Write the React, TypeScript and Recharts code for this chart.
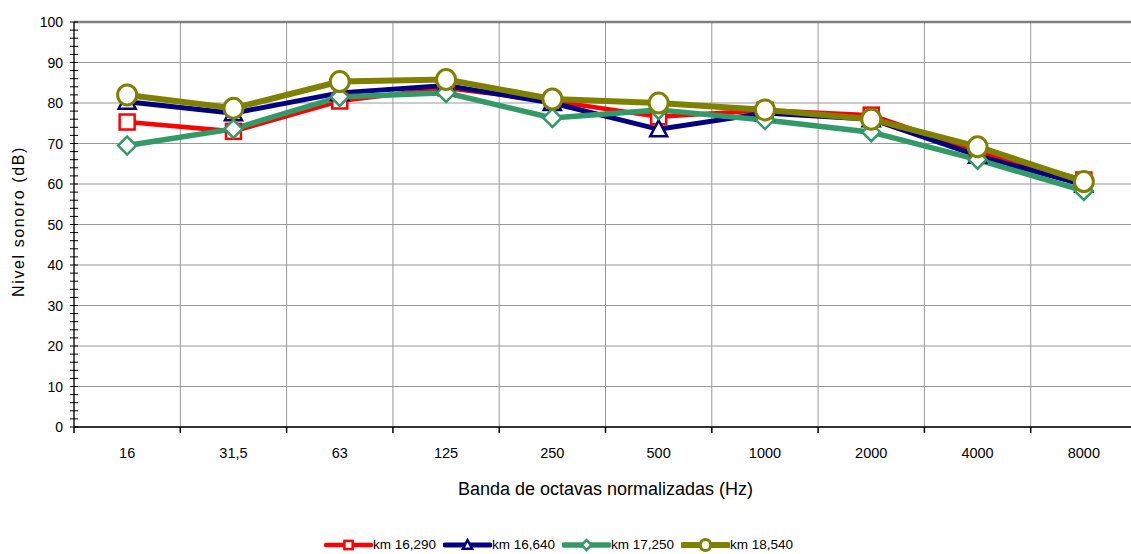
import React from 'react';
import { LineChart, Line, XAxis, YAxis, CartesianGrid, Legend, ReferenceLine } from 'recharts';

const categories = ['16', '31,5', '63', '125', '250', '500', '1000', '2000', '4000', '8000'];
const seriesNames = ['km 16,290', 'km 16,640', 'km 17,250', 'km 18,540'];
const km16290 = [75.3, 73.0, 80.5, 83.7, 80.5, 76.6, 78.2, 77.0, 68.0, 61.0];
const km16640 = [80.3, 77.5, 82.5, 84.3, 80.0, 73.5, 77.5, 76.0, 67.0, 59.8];
const km17250 = [69.5, 73.6, 81.5, 82.5, 76.3, 78.3, 75.8, 72.8, 66.0, 58.3];
const km18540 = [82.0, 78.7, 85.3, 85.8, 81.0, 80.0, 78.3, 76.0, 69.2, 60.6];
const yMajorTicks = [0, 10, 20, 30, 40, 50, 60, 70, 80, 90, 100];
const yAllTicks = Array.from({ length: 51 }, (_, i) => i * 2);

const data = categories.map((c, i) => ({
  cat: c,
  s1: km16290[i],
  s2: km16640[i],
  s3: km17250[i],
  s4: km18540[i],
}));

const FONT = '"Liberation Sans", Arial, sans-serif';
const CHART_W = 1150;
const CHART_H = 554;
const MARGIN = { top: 22, right: 13, left: 0, bottom: 0 };
const Y_W = 74;
const PLOT_W = CHART_W - MARGIN.left - MARGIN.right - Y_W;
const BAND = PLOT_W / categories.length;

const COLORS = ['#FF0000', '#000080', '#339966', '#808000'];
const WIDTHS = [4.5, 5, 5.5, 6];

type Shape = 'square' | 'triangle' | 'diamond' | 'circle';
const SHAPES: Shape[] = ['square', 'triangle', 'diamond', 'circle'];

function Marker({ shape, cx, cy, color, s }: { shape: Shape; cx: number; cy: number; color: string; s: number }) {
  if (shape === 'square') {
    return <rect x={cx - 7.5 * s} y={cy - 7.5 * s} width={15 * s} height={15 * s} fill="#fff" stroke={color} strokeWidth={2.5} />;
  }
  if (shape === 'triangle') {
    const pts = `${cx},${cy - 9 * s} ${cx + 8.5 * s},${cy + 7 * s} ${cx - 8.5 * s},${cy + 7 * s}`;
    return <polygon points={pts} fill="#fff" stroke={color} strokeWidth={2.5} />;
  }
  if (shape === 'diamond') {
    const pts = `${cx},${cy - 9 * s} ${cx + 9 * s},${cy} ${cx},${cy + 9 * s} ${cx - 9 * s},${cy}`;
    return <polygon points={pts} fill="#fff" stroke={color} strokeWidth={2.5} />;
  }
  return <ellipse cx={cx} cy={cy} rx={9.5 * s} ry={10 * s} fill="#fff" stroke={color} strokeWidth={3} />;
}

const makeDot = (idx: number) => (props: any) => {
  const { cx, cy, index } = props;
  if (cx == null || cy == null) return <g key={`d${idx}-${index}`} />;
  return (
    <g key={`d${idx}-${index}`}>
      <Marker shape={SHAPES[idx]} cx={cx} cy={cy} color={COLORS[idx]} s={1} />
    </g>
  );
};

const YTick = (props: any) => {
  const { x, y, payload } = props;
  const v = payload.value;
  return (
    <g>
      <line x1={x - 4} x2={x + 4} y1={y} y2={y} stroke="#000" strokeWidth={1} />
      {v % 10 === 0 && (
        <text x={x - 11} y={y} dy={5} textAnchor="end" fontSize={14} fontFamily={FONT} fill="#000">
          {v}
        </text>
      )}
    </g>
  );
};

const XTick = (props: any) => {
  const { x, y, payload, index } = props;
  return (
    <g>
      <line x1={x - BAND / 2} x2={x - BAND / 2} y1={y} y2={y + 6} stroke="#000" strokeWidth={1.5} />
      {index === categories.length - 1 && (
        <line x1={x + BAND / 2} x2={x + BAND / 2} y1={y} y2={y + 6} stroke="#000" strokeWidth={1.5} />
      )}
      <text x={x} y={y + 31} textAnchor="middle" fontSize={14.5} fontFamily={FONT} fill="#000">
        {payload.value}
      </text>
    </g>
  );
};

const XLabel = (props: any) => {
  const { viewBox } = props;
  const cx = viewBox.x + viewBox.width / 2;
  return (
    <text x={cx} y={viewBox.y + 68} textAnchor="middle" fontSize={18} fontFamily={FONT} fill="#000">
      Banda de octavas normalizadas (Hz)
    </text>
  );
};

const YLabel = (props: any) => {
  const { viewBox } = props;
  const cy = viewBox.y + viewBox.height / 2 - 3;
  const x = 24;
  return (
    <text
      x={x}
      y={cy}
      transform={`rotate(-90 ${x} ${cy})`}
      textAnchor="middle"
      fontSize={16}
      letterSpacing={1.6}
      fontFamily={FONT}
      fill="#000"
    >
      Nivel sonoro (dB)
    </text>
  );
};

const LegendContent = () => (
  <div
    style={{
      display: 'flex',
      justifyContent: 'center',
      alignItems: 'flex-end',
      height: 50,
      paddingRight: 13,
      boxSizing: 'border-box',
      fontFamily: FONT,
      fontSize: 13.5,
      color: '#000',
    }}
  >
    {seriesNames.map((name, i) => (
      <div key={name} style={{ display: 'flex', alignItems: 'center', marginRight: 7, height: 18 }}>
        <svg width={49} height={16} style={{ display: 'block' }}>
          <line x1={2} x2={47} y1={8} y2={8} stroke={COLORS[i]} strokeWidth={WIDTHS[i]} strokeLinecap="round" />
          <Marker shape={SHAPES[i]} cx={24.5} cy={8} color={COLORS[i]} s={0.55} />
        </svg>
        <span style={{ lineHeight: '18px' }}>{name}</span>
      </div>
    ))}
  </div>
);

export default function App() {
  const keys = ['s1', 's2', 's3', 's4'];
  return (
    <div style={{ position: 'absolute', left: 0, top: 0, width: 1131, height: 554, overflow: 'hidden', background: '#fff' }}>
      <LineChart width={CHART_W} height={CHART_H} data={data} margin={MARGIN}>
        <CartesianGrid
          stroke="#999"
          strokeWidth={1}
          verticalCoordinatesGenerator={({ offset }: any) =>
            Array.from({ length: categories.length + 1 }, (_, i) => offset.left + (i * offset.width) / categories.length)
          }
          horizontalCoordinatesGenerator={({ offset }: any) =>
            yMajorTicks.map((v) => offset.top + offset.height * (1 - v / 100))
          }
        />
        <XAxis
          dataKey="cat"
          scale="band"
          height={77}
          interval={0}
          tickSize={0}
          tickMargin={0}
          tickLine={false}
          axisLine={{ stroke: '#333', strokeWidth: 2 }}
          tick={<XTick />}
          label={<XLabel />}
        />
        <YAxis
          type="number"
          domain={[0, 100]}
          ticks={yAllTicks}
          interval={0}
          width={Y_W}
          tickSize={0}
          tickMargin={0}
          tickLine={false}
          axisLine={{ stroke: '#000', strokeWidth: 1.2 }}
          tick={<YTick />}
          label={<YLabel />}
        />
        <ReferenceLine y={100} stroke="#808080" strokeWidth={2.5} />
        <Legend verticalAlign="bottom" height={50} content={<LegendContent />} />
        {keys.map((k, i) => (
          <Line
            key={k}
            type="linear"
            dataKey={k}
            name={seriesNames[i]}
            stroke={COLORS[i]}
            strokeWidth={WIDTHS[i]}
            dot={makeDot(i)}
            activeDot={false}
            isAnimationActive={false}
          />
        ))}
      </LineChart>
    </div>
  );
}
